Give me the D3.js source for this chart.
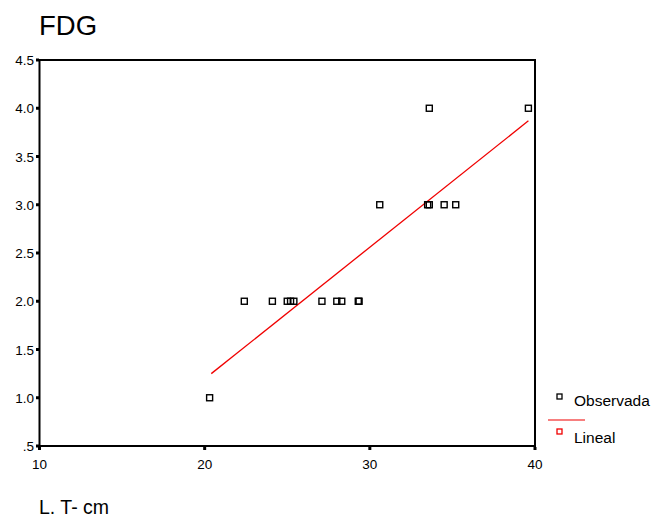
<!DOCTYPE html>
<html>
<head>
<meta charset="utf-8">
<script src="https://cdn.jsdelivr.net/npm/d3@7"></script>
<style>
  body { margin: 0; background: #fff; }
  text { font-family: "Liberation Sans", Arial, sans-serif; }
</style>
</head>
<body>
<div id="chart"></div>
<script>
// observed points: L. T- cm vs FDG
let obsX = [20.3, 22.4, 24.1, 25.0, 25.2, 25.4, 27.1, 28.0, 28.3, 29.3, 29.35,
            30.6, 33.5, 33.6, 34.5, 35.2, 33.6, 39.6];
let obsY = [1.0, 2.0, 2.0, 2.0, 2.0, 2.0, 2.0, 2.0, 2.0, 2.0, 2.0,
            3.0, 3.0, 3.0, 3.0, 3.0, 4.0, 4.0];

// linear fit endpoints
let fitX = [20.4, 39.6];
let fitY = [1.25, 3.87];

let xTicks = [10, 20, 30, 40];
let yTicks = [0.5, 1.0, 1.5, 2.0, 2.5, 3.0, 3.5, 4.0, 4.5];
let legendLabels = ["Observada", "Lineal"];

let svgWidth = 654;
let svgHeight = 517;

let svg = d3.select("#chart")
  .append("svg")
    .attr("width", svgWidth)
    .attr("height", svgHeight);

let x = d3.scaleLinear().domain([10, 40]).range([39.5, 535]);
let y = d3.scaleLinear().domain([0.5, 4.5]).range([446, 60]);

// title
svg.append("text")
  .attr("x", 39)
  .attr("y", 35)
  .attr("font-size", 27.5)
  .text("FDG");

// frame
svg.append("rect")
  .attr("x", x(10))
  .attr("y", y(4.5))
  .attr("width", x(40) - x(10))
  .attr("height", y(0.5) - y(4.5))
  .attr("fill", "none")
  .attr("stroke", "black")
  .attr("stroke-width", 2);

// y axis ticks
let yAxis = svg.append("g");
yAxis.selectAll("rect").data(yTicks).enter()
  .append("rect")
  .attr("x", x(10) - 3.5)
  .attr("y", d => y(d) - 1.5)
  .attr("width", 3)
  .attr("height", 3)
  .attr("fill", "black");
yAxis.selectAll("text").data(yTicks).enter()
  .append("text")
  .attr("x", 34)
  .attr("y", d => y(d) + 5)
  .attr("text-anchor", "end")
  .attr("font-size", 13.5)
  .text(d => d === 0.5 ? ".5" : d3.format(".1f")(d));

// x axis ticks
let xAxis = svg.append("g");
xAxis.selectAll("rect").data(xTicks).enter()
  .append("rect")
  .attr("x", d => x(d) - 1.5)
  .attr("y", y(0.5) + 1)
  .attr("width", 3)
  .attr("height", 3)
  .attr("fill", "black");
xAxis.selectAll("text").data(xTicks).enter()
  .append("text")
  .attr("x", d => x(d))
  .attr("y", 469)
  .attr("text-anchor", "middle")
  .attr("font-size", 13.5)
  .text(d => d);

// x title
svg.append("text")
  .attr("x", 39)
  .attr("y", 514)
  .attr("font-size", 19.5)
  .text("L. T- cm");

// fit line
let line = d3.line().x(d => x(d[0])).y(d => y(d[1]));
svg.append("path")
  .datum(d3.zip(fitX, fitY))
  .attr("d", line)
  .attr("fill", "none")
  .attr("stroke", "#f00000")
  .attr("stroke-width", 1.3);

// observed squares
svg.append("g").selectAll("rect").data(d3.zip(obsX, obsY)).enter()
  .append("rect")
  .attr("x", d => x(d[0]) - 3)
  .attr("y", d => y(d[1]) - 3)
  .attr("width", 6)
  .attr("height", 6)
  .attr("fill", "none")
  .attr("stroke", "black")
  .attr("stroke-width", 1.4);

// legend
let legend = svg.append("g");
legend.append("rect")
  .attr("x", 557).attr("y", 394).attr("width", 5).attr("height", 5)
  .attr("fill", "none").attr("stroke", "black").attr("stroke-width", 1.3);
legend.append("text")
  .attr("x", 574).attr("y", 406).attr("font-size", 15.5)
  .text(legendLabels[0]);
legend.append("line")
  .attr("x1", 548).attr("x2", 585).attr("y1", 420).attr("y2", 420)
  .attr("stroke", "#f00000").attr("stroke-width", 1.2);
legend.append("rect")
  .attr("x", 557).attr("y", 429).attr("width", 5).attr("height", 5)
  .attr("fill", "none").attr("stroke", "#f00000").attr("stroke-width", 1.3);
legend.append("text")
  .attr("x", 574).attr("y", 443).attr("font-size", 15.5)
  .text(legendLabels[1]);
</script>
</body>
</html>
